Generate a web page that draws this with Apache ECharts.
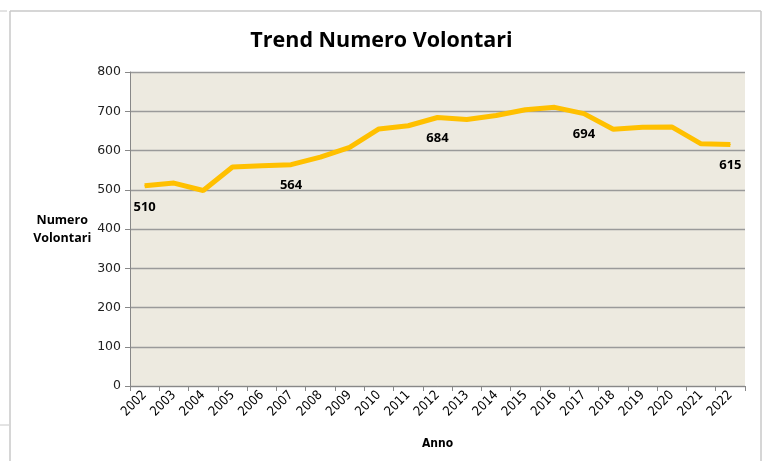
<!DOCTYPE html>
<html>
<head>
    <meta charset="utf-8">
    <title>Trend Numero Volontari</title>
    <script src="https://cdn.jsdelivr.net/npm/echarts@6/dist/echarts.min.js"></script>
</head>
<body style="margin: 0; background: #fff">
<div id="container" style="width: 763px; height: 461px"></div>
<script>
    // dati
    var anni = ['2002', '2003', '2004', '2005', '2006', '2007', '2008', '2009', '2010', '2011',
        '2012', '2013', '2014', '2015', '2016', '2017', '2018', '2019', '2020', '2021', '2022'];
    var volontari = [510, 517, 498, 558, 561, 564, 583, 608, 655, 663,
        684, 679, 689, 704, 710, 694, 654, 659, 660, 617, 615];
    // anni con etichetta del valore
    var anniEtichetta = ['2002', '2007', '2012', '2017', '2022'];

    var myChart = echarts.init(document.getElementById('container'));

    var option = {
        backgroundColor: '#fff',
        animation: false,
        title: {
            text: 'Trend Numero Volontari',
            left: 'center',
            top: 25,
            textStyle: {
                fontFamily: 'Open Sans',
                fontSize: 21.5,
                fontWeight: 'bold',
                color: '#000'
            }
        },
        // cornice del foglio
        graphic: [
            {type: 'line', shape: {x1: 10, y1: 11, x2: 761, y2: 11}, style: {stroke: '#c8c8c8', lineWidth: 1.5}},
            {type: 'line', shape: {x1: 10, y1: 11, x2: 10, y2: 461}, style: {stroke: '#c8c8c8', lineWidth: 1.5}},
            {type: 'line', shape: {x1: 761, y1: 11, x2: 761, y2: 461}, style: {stroke: '#c8c8c8', lineWidth: 1.5}},
            {type: 'line', shape: {x1: 0, y1: 11, x2: 7, y2: 11}, style: {stroke: '#c8c8c8', lineWidth: 1}},
            {type: 'line', shape: {x1: 0, y1: 425, x2: 9, y2: 425}, style: {stroke: '#c8c8c8', lineWidth: 1}}
        ],
        grid: {
            left: 130,
            right: 18,
            top: 72,
            bottom: 75,
            show: true,
            backgroundColor: '#edeae0',
            borderWidth: 0
        },
        xAxis: {
            type: 'category',
            data: anni,
            boundaryGap: true,
            name: 'Anno',
            nameLocation: 'middle',
            nameGap: 52,
            nameTextStyle: {
                fontFamily: 'DejaVu Sans Condensed',
                fontWeight: 'bold',
                fontSize: 12,
                color: '#000'
            },
            axisLine: {lineStyle: {color: '#888', width: 1}},
            axisTick: {show: true, length: 5, interval: 0, lineStyle: {color: '#888'}},
            axisLabel: {
                interval: 0,
                rotate: 45,
                margin: 7,
                fontFamily: 'DejaVu Sans Condensed',
                fontSize: 13,
                color: '#000'
            }
        },
        yAxis: {
            type: 'value',
            min: 0,
            max: 800,
            interval: 100,
            name: 'Numero\nVolontari',
            nameLocation: 'middle',
            nameRotate: 0,
            nameGap: 54,
            nameTextStyle: {
                fontFamily: 'Open Sans',
                fontWeight: 'bold',
                fontSize: 12.5,
                lineHeight: 18,
                color: '#000',
                align: 'center'
            },
            axisLine: {show: true, lineStyle: {color: '#888', width: 1}},
            axisTick: {show: true, length: 5, lineStyle: {color: '#888'}},
            axisLabel: {
                margin: 9,
                fontFamily: 'DejaVu Sans',
                fontSize: 12.5,
                color: '#222'
            },
            splitLine: {lineStyle: {color: '#9a9a9a', width: 1.3}}
        },
        series: [
            {
                name: 'Volontari',
                type: 'line',
                data: volontari.map(function (v, i) {
                    var conEtichetta = anniEtichetta.indexOf(anni[i]) >= 0;
                    return {
                        value: v,
                        label: {show: conEtichetta}
                    };
                }),
                symbol: 'circle',
                symbolSize: 1,
                showSymbol: true,
                lineStyle: {color: '#ffc000', width: 5},
                itemStyle: {color: '#ffc000'},
                label: {
                    show: false,
                    position: 'bottom',
                    distance: 14,
                    fontFamily: 'Open Sans',
                    fontWeight: 'bold',
                    fontSize: 13,
                    color: '#000'
                }
            }
        ]
    };

    myChart.setOption(option);
</script>
</body>
</html>
